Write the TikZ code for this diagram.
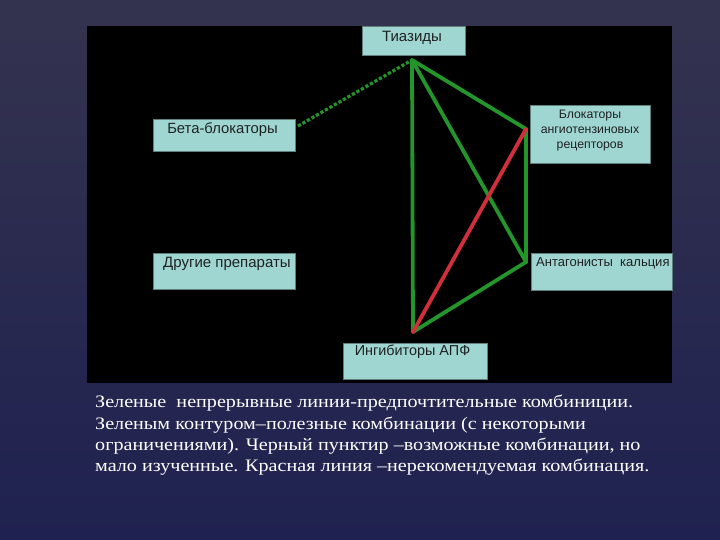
\documentclass[tikz,border=0pt]{standalone}
\usepackage{fontspec}
\setmainfont{Liberation Serif}
\newfontfamily\boxfont{Liberation Sans}
\newfontfamily\capfont[FakeStretch=1.15]{Liberation Serif}
\definecolor{bgtop}{HTML}{34334F}
\definecolor{bgbot}{HTML}{1F2150}
\definecolor{boxfill}{HTML}{A0D6D1}
\definecolor{boxline}{HTML}{5E7F7C}
\definecolor{lgreen}{HTML}{23952A}
\definecolor{lred}{HTML}{D22F3D}
\definecolor{boxtext}{HTML}{1E2222}
\tikzset{
  drugbox/.style={draw=boxline, line width=0.8pt, fill=boxfill, inner sep=0pt},
  boxlabel/.style={font=\boxfont\fontsize{15}{17}\selectfont, text=boxtext, inner sep=0pt, align=center},
  goodline/.style={draw=lgreen, line width=3.8pt, line cap=round, line join=round},
  badline/.style={draw=lred, line width=3.8pt, line cap=round},
  dotline/.style={draw=lgreen, line width=3.2pt, dotted},
  caption/.style={font=\capfont\fontsize{17.5}{21.3}\selectfont, text=white, inner sep=0pt, anchor=north west, align=left}
}
\begin{document}
\begin{tikzpicture}[x=1pt,y=-1pt]
\useasboundingbox (0,0) rectangle (720,540);
\shade[top color=bgtop, bottom color=bgbot] (0,0) rectangle (720,540);
\fill[black] (87,26) rectangle (672,383);

% boxes
\node[drugbox, minimum width=103pt, minimum height=29pt] (thz) at (413.5,40.5) {};
\node[drugbox, minimum width=142pt, minimum height=32pt] (beta) at (224,135) {};
\node[drugbox, minimum width=120pt, minimum height=58pt] (arb) at (590,134) {};
\node[drugbox, minimum width=141pt, minimum height=37pt] (cca) at (601.5,271.5) {};
\node[drugbox, minimum width=142pt, minimum height=36pt] (oth) at (224,271) {};
\node[drugbox, minimum width=144pt, minimum height=36pt] (ace) at (415,361) {};

% labels
\node[boxlabel] (thzl) at (412,38) {Тиазиды};
\node[boxlabel, font=\boxfont\fontsize{14.8}{17}\selectfont] (betal) at (222.5,130) {Бета-блокаторы};
\node[boxlabel, font=\boxfont\fontsize{12.3}{14.8}\selectfont] (arbl) at (590,130.5) {Блокаторы\\ангиотензиновых\\рецепторов};
\node[boxlabel, anchor=west, font=\boxfont\fontsize{13}{15}\selectfont] (ccal) at (536,263.5) {Антагонисты\ \ кальция};
\node[boxlabel, anchor=west, font=\boxfont\fontsize{15}{17}\selectfont] (othl) at (163,264) {Другие препараты};
\node[boxlabel, font=\boxfont\fontsize{14.4}{17}\selectfont] (acel) at (412.5,351.5) {Ингибиторы АПФ};

% connector end points
\coordinate (pT) at (412,60);
\coordinate (pR1) at (526,129);
\coordinate (pR2) at (526,262);
\coordinate (pB) at (413,332);
\coordinate (pBeta) at (298,126);

\draw[dotline] (pBeta) -- (pT);
\draw[goodline] (pT) -- (pB);
\draw[goodline] (pT) -- (pR1);
\draw[goodline] (pT) -- (pR2);
\draw[goodline] (pR1) -- (pR2);
\draw[goodline] (pB) -- (pR2);
\draw[badline] (pB) -- (pR1);

% caption
\node[caption] (cap) at (95,395) {Зеленые\ \ непрерывные линии-предпочтительные комбиниции.\\
Зеленым контуром–полезные комбинации (с некоторыми\\
ограничениями). Черный пунктир –возможные комбинации, но\\
мало изученные. Красная линия –нерекомендуемая комбинация.};
\end{tikzpicture}
\end{document}
